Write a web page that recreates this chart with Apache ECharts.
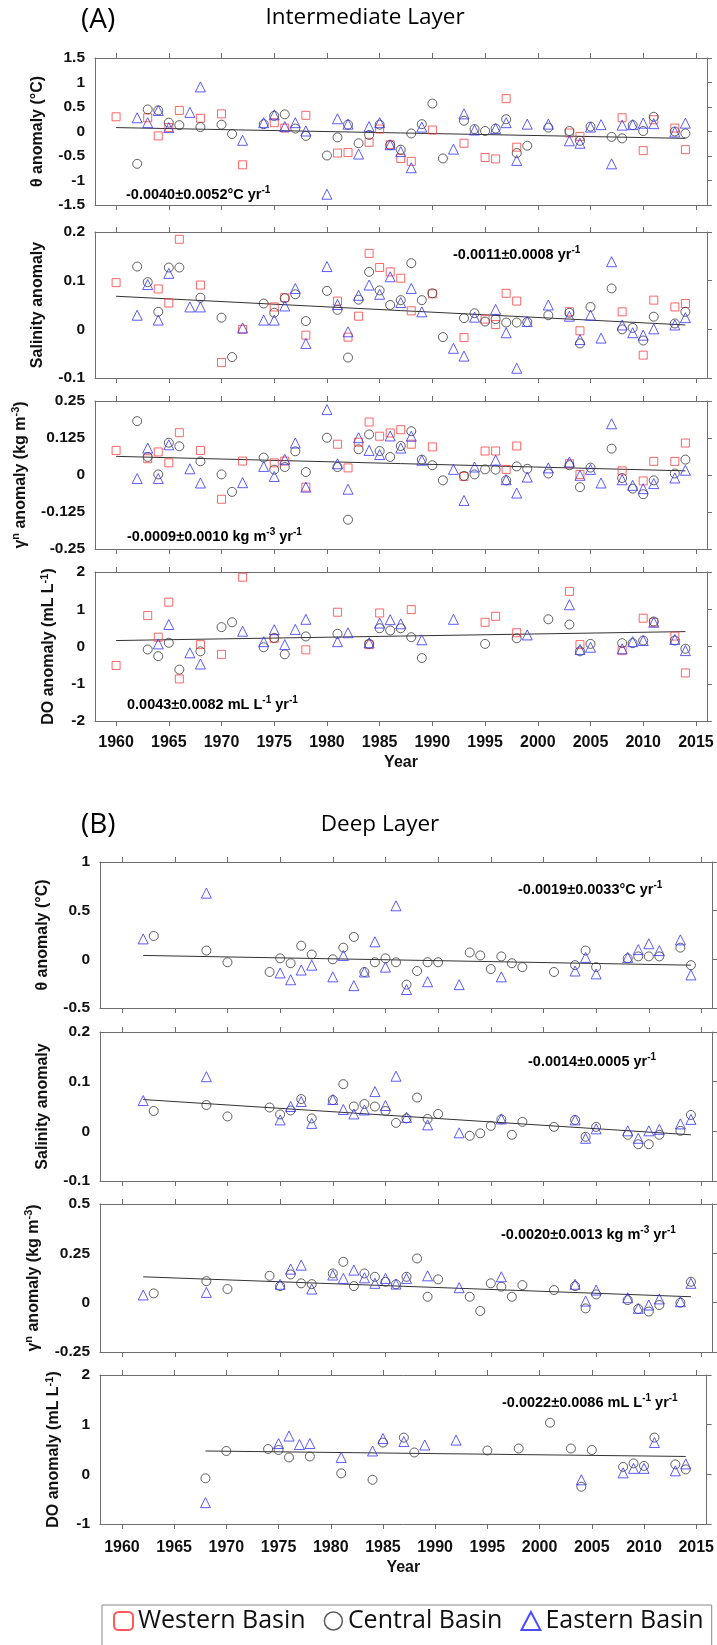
<!DOCTYPE html>
<html><head><meta charset="utf-8">
<script src="https://cdn.jsdelivr.net/npm/echarts@6/dist/echarts.min.js"></script>
<style>html,body{margin:0;padding:0;background:#fff}#c{width:717px;height:1645px}</style>
</head><body><div id="c"></div>
<script>
const yearTicks = [1960,1965,1970,1975,1980,1985,1990,1995,2000,2005,2010,2015];

// ---------- (A) Intermediate layer ----------
const A1_west = [[1960,0.30],[1963,0.28],[1964,-0.09],[1965,0.08],[1966,0.43],[1968,0.27],[1970,0.36],[1972,-0.68],[1975,0.18],[1976,0.07],[1978,0.33],[1981,-0.44],[1982,-0.43],[1984,-0.22],[1985,0.05],[1986,-0.27],[1987,-0.55],[1988,-0.61],[1990,0.03],[1993,-0.24],[1995,-0.53],[1996,-0.56],[1997,0.67],[1998,-0.32],[2003,-0.03],[2004,-0.10],[2008,0.28],[2010,-0.39],[2011,0.24],[2013,0.07],[2014,-0.37]];
const A1_central = [[1962,-0.66],[1963,0.45],[1964,0.43],[1965,0.18],[1966,0.13],[1968,0.09],[1970,0.14],[1971,-0.05],[1974,0.15],[1975,0.32],[1976,0.35],[1977,0.06],[1978,-0.09],[1980,-0.49],[1981,-0.12],[1982,0.14],[1983,-0.24],[1984,-0.07],[1985,0.14],[1986,-0.28],[1987,-0.37],[1988,-0.04],[1989,0.15],[1990,0.57],[1991,-0.55],[1993,0.22],[1994,0.05],[1995,0.01],[1996,0.06],[1997,0.25],[1998,-0.44],[1999,-0.29],[2001,0.08],[2003,0.01],[2004,-0.19],[2005,0.10],[2007,-0.11],[2008,-0.14],[2009,0.13],[2010,0.01],[2011,0.30],[2013,0.00],[2014,-0.04]];
const A1_east = [[1962,0.28],[1963,0.18],[1964,0.43],[1965,0.08],[1967,0.39],[1968,0.91],[1972,-0.18],[1974,0.18],[1975,0.34],[1976,0.10],[1977,0.18],[1978,0.01],[1980,-1.28],[1981,0.26],[1982,0.15],[1983,-0.46],[1984,0.10],[1985,0.18],[1986,-0.27],[1987,-0.41],[1988,-0.74],[1989,0.09],[1992,-0.36],[1993,0.36],[1994,0.03],[1996,0.06],[1997,0.18],[1998,-0.59],[1999,0.15],[2001,0.15],[2003,-0.19],[2004,-0.24],[2005,0.09],[2006,0.14],[2007,-0.66],[2008,0.13],[2009,0.14],[2010,0.17],[2011,0.16],[2013,-0.01],[2014,0.17]];
const A1_trend = [[1960,0.08],[2014,-0.14]];

const A2_west = [[1960,0.096],[1964,0.083],[1965,0.054],[1966,0.185],[1968,0.091],[1970,-0.068],[1972,0.0],[1975,0.046],[1976,0.065],[1978,-0.012],[1981,0.058],[1982,-0.016],[1983,0.027],[1984,0.156],[1985,0.127],[1986,0.118],[1987,0.105],[1988,0.038],[1990,0.073],[1993,-0.017],[1995,0.021],[1996,0.010],[1997,0.074],[1998,0.058],[2003,0.036],[2004,-0.003],[2008,0.036],[2010,-0.053],[2011,0.060],[2013,0.046],[2014,0.053]];
const A2_central = [[1962,0.129],[1963,0.097],[1964,0.036],[1965,0.127],[1966,0.127],[1968,0.065],[1970,0.024],[1971,-0.057],[1974,0.053],[1975,0.034],[1976,0.064],[1977,0.072],[1978,0.017],[1980,0.079],[1981,0.040],[1982,-0.058],[1983,0.061],[1984,0.118],[1985,0.080],[1986,0.050],[1987,0.060],[1988,0.136],[1989,0.060],[1990,0.074],[1991,-0.016],[1993,0.023],[1994,0.033],[1995,0.016],[1996,0.021],[1997,0.014],[1998,0.014],[1999,0.015],[2001,0.029],[2003,0.034],[2004,-0.029],[2005,0.046],[2007,0.084],[2008,0.0],[2009,0.003],[2010,-0.023],[2011,0.026],[2013,0.012],[2014,0.036]];
const A2_east = [[1962,0.029],[1963,0.092],[1964,0.019],[1965,0.115],[1967,0.046],[1968,0.046],[1972,0.003],[1974,0.019],[1975,0.019],[1976,0.048],[1977,0.084],[1978,-0.029],[1980,0.129],[1981,0.051],[1982,-0.005],[1983,0.070],[1984,0.091],[1985,0.072],[1986,0.108],[1987,0.055],[1988,0.084],[1989,0.036],[1992,-0.039],[1993,-0.055],[1994,0.025],[1996,0.041],[1997,-0.007],[1998,-0.080],[1999,0.016],[2001,0.050],[2003,0.027],[2004,-0.021],[2005,0.029],[2006,-0.018],[2007,0.139],[2008,0.009],[2009,-0.007],[2010,-0.012],[2011,0.001],[2013,0.009],[2014,0.024]];
const A2_trend = [[1960,0.068],[2014,0.009]];

const A3_west = [[1960,0.083],[1963,0.055],[1964,0.078],[1965,0.041],[1966,0.143],[1968,0.083],[1970,-0.082],[1972,0.047],[1975,0.041],[1976,0.047],[1978,-0.041],[1981,0.104],[1982,0.024],[1983,0.111],[1984,0.179],[1985,0.131],[1986,0.142],[1987,0.153],[1988,0.104],[1990,0.095],[1993,-0.005],[1995,0.081],[1996,0.081],[1997,0.019],[1998,0.098],[2003,0.038],[2004,0.002],[2008,0.014],[2010,-0.020],[2011,0.046],[2013,0.046],[2014,0.108]];
const A3_central = [[1962,0.182],[1963,0.061],[1964,0.002],[1965,0.109],[1966,0.097],[1968,0.046],[1970,0.002],[1971,-0.057],[1974,0.059],[1975,0.018],[1976,0.027],[1977,0.080],[1978,0.010],[1980,0.126],[1981,0.027],[1982,-0.151],[1983,0.087],[1984,0.137],[1985,0.081],[1986,0.061],[1987,0.098],[1988,0.148],[1989,0.052],[1990,0.033],[1991,-0.018],[1993,-0.003],[1994,0.002],[1995,0.019],[1996,0.018],[1997,-0.018],[1998,0.029],[1999,0.021],[2001,0.005],[2003,0.033],[2004,-0.041],[2005,0.025],[2007,0.089],[2008,-0.010],[2009,-0.046],[2010,-0.065],[2011,-0.018],[2013,0.005],[2014,0.052]];
const A3_east = [[1962,-0.012],[1963,0.091],[1964,-0.012],[1965,0.102],[1967,0.021],[1968,-0.027],[1972,-0.026],[1974,0.029],[1975,-0.005],[1976,0.053],[1977,0.108],[1978,-0.041],[1980,0.221],[1981,0.038],[1982,-0.048],[1983,0.126],[1984,0.083],[1985,0.069],[1986,0.132],[1987,0.091],[1988,0.131],[1989,0.050],[1992,0.019],[1993,-0.086],[1994,0.027],[1996,0.050],[1997,-0.016],[1998,-0.061],[1999,-0.007],[2001,0.024],[2003,0.044],[2004,-0.001],[2005,0.019],[2006,-0.027],[2007,0.173],[2008,-0.016],[2009,-0.035],[2010,-0.046],[2011,-0.029],[2013,-0.010],[2014,0.016]];
const A3_trend = [[1960,0.063],[2014,0.014]];

const A4_west = [[1960,-0.51],[1963,0.83],[1964,0.25],[1965,1.19],[1966,-0.87],[1968,0.05],[1970,-0.21],[1972,1.86],[1975,0.22],[1978,-0.09],[1981,0.92],[1984,0.05],[1985,0.90],[1988,0.99],[1995,0.65],[1996,0.81],[1998,0.37],[2003,1.48],[2004,0.05],[2008,-0.11],[2010,0.76],[2011,0.65],[2013,0.28],[2014,-0.71]];
const A4_central = [[1963,-0.08],[1964,-0.26],[1965,0.10],[1966,-0.62],[1968,-0.13],[1970,0.52],[1971,0.65],[1974,-0.02],[1975,0.23],[1976,-0.21],[1978,0.27],[1981,0.34],[1984,0.07],[1985,0.49],[1986,0.43],[1987,0.49],[1988,0.25],[1989,-0.31],[1995,0.07],[1998,0.22],[2001,0.73],[2003,0.59],[2004,-0.13],[2005,0.07],[2008,0.09],[2009,0.09],[2010,0.16],[2011,0.67],[2013,0.16],[2014,-0.06]];
const A4_east = [[1964,0.07],[1965,0.59],[1967,-0.17],[1968,-0.47],[1972,0.41],[1974,0.13],[1975,0.45],[1976,0.05],[1977,0.46],[1978,0.73],[1981,0.13],[1982,0.37],[1984,0.10],[1985,0.63],[1986,0.72],[1987,0.61],[1989,0.18],[1992,0.73],[1999,0.31],[2003,1.12],[2004,-0.08],[2005,-0.02],[2008,-0.06],[2009,0.13],[2010,0.16],[2011,0.65],[2013,0.19],[2014,-0.11]];
const A4_trend = [[1960,0.16],[2014,0.40]];

// ---------- (B) Deep layer ----------
const B1_central = [[1963,0.24],[1968,0.09],[1970,-0.03],[1974,-0.13],[1975,0.01],[1976,-0.04],[1977,0.14],[1978,0.05],[1980,0.0],[1981,0.12],[1982,0.23],[1983,-0.13],[1984,-0.03],[1985,0.01],[1986,-0.03],[1987,-0.26],[1988,-0.12],[1989,-0.03],[1990,-0.03],[1993,0.07],[1994,0.04],[1995,-0.10],[1996,0.03],[1997,-0.04],[1998,-0.08],[2001,-0.13],[2003,-0.06],[2004,0.09],[2005,-0.08],[2008,0.01],[2009,0.03],[2010,0.03],[2011,0.03],[2013,0.12],[2014,-0.06]];
const B1_east = [[1962,0.21],[1968,0.68],[1975,-0.14],[1976,-0.21],[1977,-0.11],[1978,-0.06],[1980,-0.18],[1981,0.04],[1982,-0.27],[1983,-0.13],[1984,0.18],[1985,-0.08],[1986,0.55],[1987,-0.31],[1989,-0.23],[1992,-0.26],[1996,-0.18],[2003,-0.12],[2004,0.02],[2005,-0.15],[2008,0.02],[2009,0.10],[2010,0.16],[2011,0.09],[2013,0.20],[2014,-0.16]];
const B1_trend = [[1962,0.04],[2014,-0.06]];

const B2_central = [[1963,0.041],[1968,0.053],[1970,0.030],[1974,0.048],[1975,0.034],[1976,0.042],[1977,0.065],[1978,0.026],[1980,0.063],[1981,0.095],[1982,0.050],[1983,0.055],[1984,0.050],[1985,0.041],[1986,0.017],[1987,0.026],[1988,0.068],[1989,0.025],[1990,0.035],[1993,-0.009],[1994,-0.004],[1995,0.011],[1996,0.024],[1997,-0.007],[1998,0.019],[2001,0.009],[2003,0.023],[2004,-0.011],[2005,0.009],[2008,-0.007],[2009,-0.026],[2010,-0.026],[2011,-0.007],[2013,0.001],[2014,0.033]];
const B2_east = [[1962,0.062],[1968,0.110],[1975,0.023],[1976,0.050],[1977,0.060],[1978,0.016],[1980,0.064],[1981,0.044],[1982,0.035],[1983,0.043],[1984,0.080],[1985,0.052],[1986,0.111],[1987,0.028],[1989,0.013],[1992,-0.003],[1996,0.025],[2003,0.023],[2004,-0.014],[2005,0.005],[2008,0.001],[2009,-0.014],[2010,0.001],[2011,0.004],[2013,0.015],[2014,0.024]];
const B2_trend = [[1962,0.064],[2014,-0.007]];

const B3_central = [[1963,0.047],[1968,0.109],[1970,0.069],[1974,0.136],[1975,0.084],[1976,0.143],[1977,0.098],[1978,0.094],[1980,0.148],[1981,0.207],[1982,0.084],[1983,0.148],[1984,0.131],[1985,0.106],[1986,0.093],[1987,0.131],[1988,0.224],[1989,0.030],[1990,0.118],[1993,0.030],[1994,-0.042],[1995,0.098],[1996,0.081],[1997,0.030],[1998,0.089],[2001,0.064],[2003,0.084],[2004,-0.029],[2005,0.042],[2008,0.013],[2009,-0.032],[2010,-0.045],[2011,-0.012],[2013,0.0],[2014,0.106]];
const B3_east = [[1962,0.039],[1968,0.052],[1975,0.093],[1976,0.170],[1977,0.190],[1978,0.069],[1980,0.140],[1981,0.123],[1982,0.165],[1983,0.126],[1984,0.098],[1985,0.123],[1986,0.094],[1987,0.123],[1989,0.136],[1992,0.076],[1996,0.131],[2003,0.093],[2004,0.008],[2005,0.064],[2008,0.025],[2009,-0.029],[2010,-0.012],[2011,0.019],[2013,0.005],[2014,0.098]];
const B3_trend = [[1962,0.131],[2014,0.030]];

const B4_central = [[1968,-0.08],[1970,0.47],[1974,0.51],[1975,0.49],[1976,0.34],[1978,0.36],[1981,0.02],[1984,-0.11],[1985,0.64],[1987,0.74],[1988,0.44],[1995,0.48],[1998,0.52],[2001,1.04],[2003,0.52],[2004,-0.25],[2005,0.49],[2008,0.15],[2009,0.22],[2010,0.17],[2011,0.74],[2013,0.20],[2014,0.10]];
const B4_east = [[1968,-0.57],[1975,0.62],[1976,0.77],[1977,0.60],[1978,0.62],[1981,0.34],[1984,0.47],[1985,0.72],[1987,0.66],[1989,0.59],[1992,0.69],[2004,-0.11],[2008,0.03],[2009,0.12],[2010,0.12],[2011,0.64],[2013,0.07],[2014,0.21]];
const B4_trend = [[1968,0.47],[2014,0.36]];

const yNames = ['θ anomaly (°C)', 'Salinity anomaly', 'γ{s|n} anomaly (kg m{s|-3})', 'DO anomaly (mL L{s|-1})'];
const trendTexts = {
  A1: '-0.0040±0.0052°C yr{t|-1}', A2: '-0.0011±0.0008 yr{t|-1}', A3: '-0.0009±0.0010 kg m{t|-3} yr{t|-1}', A4: '0.0043±0.0082 mL L{t|-1} yr{t|-1}',
  B1: '-0.0019±0.0033°C yr{t|-1}', B2: '-0.0014±0.0005 yr{t|-1}', B3: '-0.0020±0.0013 kg m{t|-3} yr{t|-1}', B4: '-0.0022±0.0086 mL L{t|-1} yr{t|-1}'
};
const seriesNames = ['Western Basin', 'Central Basin', 'Eastern Basin'];

// ---------- layout ----------
const FONT = '"Liberation Sans", Arial, sans-serif';
const axisCol = '#6e6e6e';
const colW = '#ff4040', colC = '#3a3a3a', colE = '#3333ff';
const supRich = {
  s: { fontSize: 11, fontWeight: 'bold', fontFamily: FONT, verticalAlign: 'top', lineHeight: 12, color: '#111' },
  t: { fontSize: 10, fontWeight: 'bold', fontFamily: FONT, verticalAlign: 'top', lineHeight: 11, color: '#000' }
};

const panels = [
  {id:'A1', L:'A', top:58,  h:147, y:[-1.5,1.5,0.5],    nm:0, w:A1_west, c:A1_central, e:A1_east, t:A1_trend, tx:[126,195]},
  {id:'A2', L:'A', top:232, h:146, y:[-0.1,0.2,0.1],    nm:1, w:A2_west, c:A2_central, e:A2_east, t:A2_trend, tx:[453,255]},
  {id:'A3', L:'A', top:401, h:148, y:[-0.25,0.25,0.125],nm:2, w:A3_west, c:A3_central, e:A3_east, t:A3_trend, tx:[127,537]},
  {id:'A4', L:'A', top:572, h:149, y:[-2,2,1],          nm:3, w:A4_west, c:A4_central, e:A4_east, t:A4_trend, tx:[127,705], last:true},
  {id:'B1', L:'B', top:862, h:146, y:[-0.5,1,0.5],      nm:0, w:null, c:B1_central, e:B1_east, t:B1_trend, tx:[518,890]},
  {id:'B2', L:'B', top:1032,h:149, y:[-0.1,0.2,0.1],    nm:1, w:null, c:B2_central, e:B2_east, t:B2_trend, tx:[528,1062]},
  {id:'B3', L:'B', top:1204,h:148, y:[-0.25,0.5,0.25],  nm:2, w:null, c:B3_central, e:B3_east, t:B3_trend, tx:[501,1235]},
  {id:'B4', L:'B', top:1375,h:149, y:[-1,2,1],          nm:3, w:null, c:B4_central, e:B4_east, t:B4_trend, tx:[502,1403], last:true}
];

const grid = [], xAxis = [], yAxis = [], series = [], graphic = [];
panels.forEach((p, i) => {
  const isA = p.L === 'A';
  const left = isA ? 95 : 100, width = 612;
  const xmin = isA ? 1958 : 1957.9, xmax = isA ? 2016.05 : 2016;
  grid.push({ left, top: p.top, width, height: p.h });
  const baseX = {
    gridIndex: i, type: 'value', min: xmin, max: xmax,
    axisLine: { show: true, onZero: false, lineStyle: { color: axisCol, width: 1 } },
    axisTick: { show: true, inside: false, length: 5, customValues: yearTicks, lineStyle: { color: axisCol } },
    splitLine: { show: false }
  };
  xAxis.push(Object.assign({}, baseX, {
    position: 'bottom',
    axisLabel: { show: !!p.last, customValues: yearTicks, formatter: v => String(v), margin: isA ? 14 : 16,
      fontSize: 16, fontWeight: 'bold', fontFamily: FONT, color: '#111' },
    name: p.last ? 'Year' : '', nameLocation: 'middle', nameGap: isA ? 34 : 36,
    nameTextStyle: { fontSize: 16, fontWeight: 'bold', fontFamily: FONT, color: '#111' }
  }));
  xAxis.push(Object.assign({}, baseX, { position: 'top', axisLabel: { show: false } }));
  const baseY = {
    gridIndex: i, type: 'value', min: p.y[0], max: p.y[1], interval: p.y[2],
    axisLine: { show: true, onZero: false, lineStyle: { color: axisCol, width: 1 } },
    splitLine: { show: false }
  };
  yAxis.push(Object.assign({}, baseY, {
    position: 'left',
    axisTick: { show: false },
    axisLabel: { show: true, margin: 10, fontSize: 15.5, fontWeight: 'bold', fontFamily: FONT, color: '#111' },
    name: yNames[p.nm], nameLocation: 'middle', nameGap: 36, nameRotate: 90,
    nameTextStyle: { fontSize: 16, fontWeight: 'bold', fontFamily: FONT, color: '#111', lineHeight: 20, rich: supRich }
  }));
  yAxis.push(Object.assign({}, baseY, {
    position: 'right',
    axisTick: { show: true, inside: false, length: 5, lineStyle: { color: axisCol } },
    axisLabel: { show: false }
  }));
  const xi = i * 2, yi = i * 2;
  if (p.w) series.push({ name: seriesNames[0], type: 'scatter', xAxisIndex: xi, yAxisIndex: yi, data: p.w, symbol: 'rect', symbolSize: 8,
    itemStyle: { color: 'rgba(0,0,0,0)', borderColor: colW, borderWidth: 1 } });
  series.push({ name: seriesNames[1], type: 'scatter', xAxisIndex: xi, yAxisIndex: yi, data: p.c, symbol: 'circle', symbolSize: 9,
    itemStyle: { color: 'rgba(0,0,0,0)', borderColor: colC, borderWidth: 1 } });
  series.push({ name: seriesNames[2], type: 'scatter', xAxisIndex: xi, yAxisIndex: yi, data: p.e, symbol: 'triangle', symbolSize: 10,
    itemStyle: { color: 'rgba(0,0,0,0)', borderColor: colE, borderWidth: 1 } });
  series.push({ name: 'trend', type: 'line', xAxisIndex: xi, yAxisIndex: yi, data: p.t, symbol: 'none', silent: true,
    lineStyle: { color: '#333', width: 1 }, z: 1 });
  graphic.push({ type: 'text', x: p.tx[0], y: p.tx[1], style: {
    text: trendTexts[p.id], fontSize: 14.5, fontWeight: 'bold', fontFamily: FONT, fill: '#000',
    align: 'left', verticalAlign: 'middle', lineHeight: 19, rich: supRich } });
});

const TFONT = '"Open Sans", "Noto Sans", sans-serif';
graphic.push({ type: 'text', x: 81, y: 20, style: { text: '(A)', fontSize: 28, fontFamily: TFONT, fill: '#000', align: 'left', verticalAlign: 'middle' } });
graphic.push({ type: 'text', x: 365, y: 18, style: { text: 'Intermediate Layer', fontSize: 22.5, fontFamily: TFONT, fill: '#000', align: 'center', verticalAlign: 'middle' } });
graphic.push({ type: 'text', x: 81, y: 825, style: { text: '(B)', fontSize: 28, fontFamily: TFONT, fill: '#000', align: 'left', verticalAlign: 'middle' } });
graphic.push({ type: 'text', x: 380, y: 825, style: { text: 'Deep Layer', fontSize: 22.5, fontFamily: TFONT, fill: '#000', align: 'center', verticalAlign: 'middle' } });

const chart = echarts.init(document.getElementById('c'), null, { renderer: 'canvas' });
chart.setOption({
  animation: false,
  backgroundColor: '#fff',
  grid, xAxis, yAxis, series, graphic,
  legend: {
    left: 102, top: 1605, orient: 'horizontal',
    itemWidth: 19, itemHeight: 18, itemGap: 18,
    padding: [2, 8, 24, 11], borderColor: '#8a8a8a', borderWidth: 1,
    textStyle: { fontSize: 25, lineHeight: 28, fontFamily: TFONT, color: '#111' },
    data: [
      { name: 'Western Basin', icon: 'roundRect', itemStyle: { color: 'rgba(0,0,0,0)', borderColor: '#ff3030', borderWidth: 2 } },
      { name: 'Central Basin', icon: 'circle', itemStyle: { color: 'rgba(0,0,0,0)', borderColor: '#333', borderWidth: 1.5 } },
      { name: 'Eastern Basin', icon: 'triangle', itemStyle: { color: 'rgba(0,0,0,0)', borderColor: '#2020ff', borderWidth: 2 } }
    ]
  }
});
</script></body></html>
